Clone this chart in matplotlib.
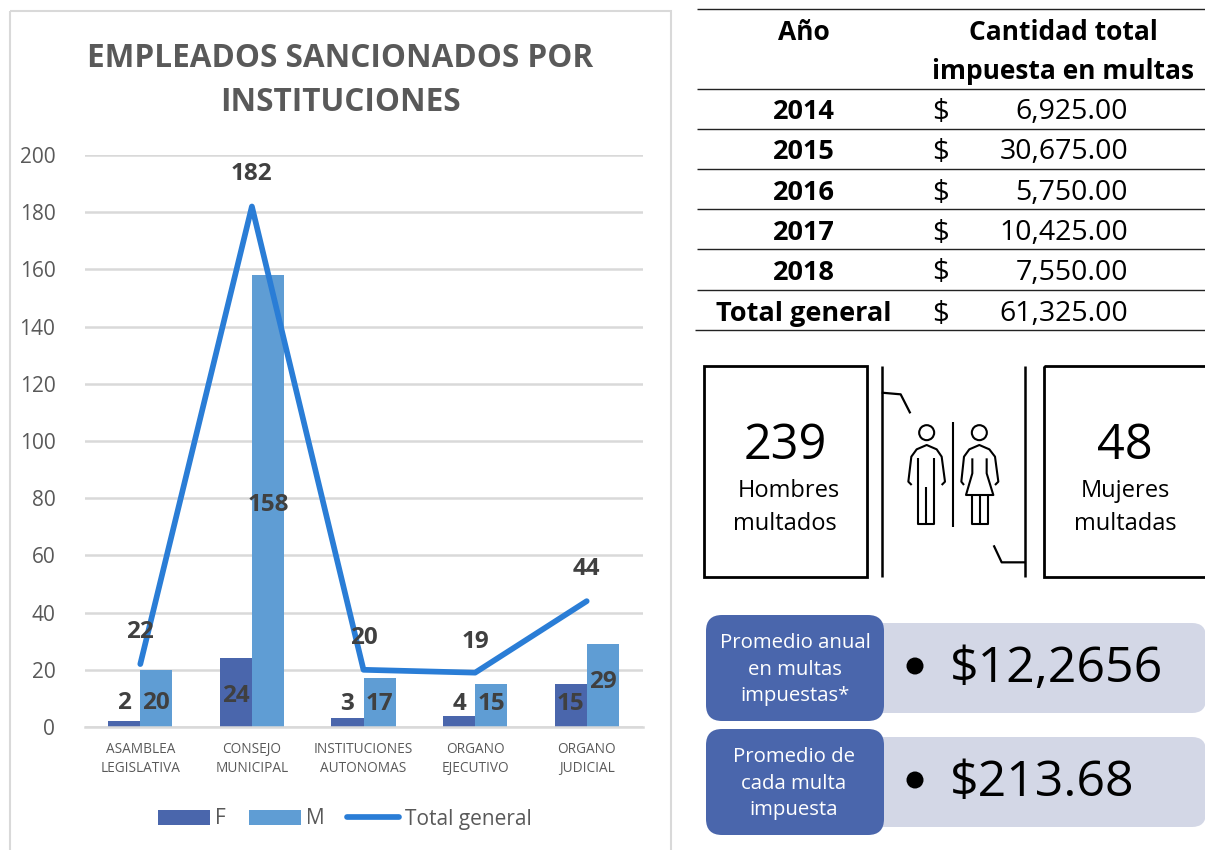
import matplotlib
matplotlib.use("Agg")
import matplotlib.pyplot as plt
import numpy as np
from matplotlib.patches import FancyBboxPatch, Rectangle, Circle

plt.rcParams["font.family"] = ["Open Sans", "DejaVu Sans"]

# datos del grafico
categories = ["ASAMBLEA\nLEGISLATIVA", "CONSEJO\nMUNICIPAL", "INSTITUCIONES\nAUTONOMAS",
              "ORGANO\nEJECUTIVO", "ORGANO\nJUDICIAL"]
f_values = [2, 24, 3, 4, 15]
m_values = [20, 158, 17, 15, 29]
total_values = [22, 182, 20, 19, 44]
y_ticks = [0, 20, 40, 60, 80, 100, 120, 140, 160, 180, 200]

# datos de la tabla
years = ["2014", "2015", "2016", "2017", "2018", "Total general"]
amounts = ["6,925.00", "30,675.00", "5,750.00", "10,425.00", "7,550.00", "61,325.00"]

men_count = "239"
women_count = "48"
annual_avg = "$12,2656"
fine_avg = "$213.68"

# desplazamiento de etiquetas (pixeles)
f_label_dy = [18, -38, 14, 12, -20]
m_label_dy = [-33, -230, -26, -20, -38]
total_label_dy = [32, 32, 32, 31, 32]

DARK = "#4a66ac"
MID = "#5f9dd4"
LINE = "#2a7dd6"
LIGHT = "#d3d7e6"
GREY = "#595959"
LABEL = "#404040"

W, H = 1205, 850
fig = plt.figure(figsize=(W / 100, H / 100), dpi=100, facecolor="white")

# capa de fondo en pixeles
bg = fig.add_axes([0, 0, 1, 1], zorder=0)
bg.set_xlim(0, W)
bg.set_ylim(H, 0)
bg.axis("off")

bg.add_patch(Rectangle((10, 11), 661, 860, fill=False, ec="#d9d9d9", lw=1.5))
bg.text(340, 58, "EMPLEADOS SANCIONADOS POR", ha="center", va="center",
        fontsize=22.7, fontweight="bold", color=GREY)
bg.text(340, 102, "INSTITUCIONES", ha="center", va="center",
        fontsize=22.7, fontweight="bold", color=GREY)

# eje del grafico
ax = fig.add_axes([84.5 / W, 1 - 727 / H, 558 / W, 572 / H], zorder=1)
ax.patch.set_alpha(0)
x = np.arange(len(categories))
bar_w = 0.287
ax.bar(x - bar_w / 2, f_values, bar_w, color=DARK, label="F", zorder=2)
ax.bar(x + bar_w / 2, m_values, bar_w, color=MID, label="M", zorder=2)
ax.plot(x, total_values, color=LINE, lw=4.1, label="Total general", zorder=3,
        solid_capstyle="round", solid_joinstyle="round")

ax.set_xlim(-0.5, len(categories) - 0.5)
ax.set_ylim(0, 200)
ax.set_yticks(y_ticks)
ax.set_xticks(x)
ax.set_xticklabels(categories, fontsize=9.8, color=GREY, linespacing=1.35)
ax.tick_params(axis="both", length=0)
ax.tick_params(axis="y", labelsize=15, labelcolor=GREY, pad=21)
ax.tick_params(axis="x", pad=11)
ax.grid(axis="y", color="#d9d9d9", lw=1.8, zorder=0)
ax.set_axisbelow(True)
for side in ["top", "right", "left"]:
    ax.spines[side].set_visible(False)
ax.spines["bottom"].set_color("#d9d9d9")
ax.spines["bottom"].set_linewidth(1.8)


def put_labels(xs, values, dys):
    for xi, v, dy in zip(xs, values, dys):
        ax.annotate(str(v), (xi, v), xytext=(0, dy), textcoords="offset pixels",
                    ha="center", va="center", fontsize=17.5, fontweight="bold",
                    color=LABEL, zorder=5)


put_labels(x - bar_w / 2, f_values, f_label_dy)
put_labels(x + bar_w / 2, m_values, m_label_dy)
put_labels(x, total_values, total_label_dy)

handles, labels = ax.get_legend_handles_labels()
order = [labels.index(name) for name in ["F", "M", "Total general"]]
ax.legend([handles[i] for i in order], [labels[i] for i in order],
          loc="center", bbox_to_anchor=(260 / 558, -92 / 572), ncol=3, frameon=False,
          fontsize=15, labelcolor=GREY, handlelength=2.5, handleheight=0.75,
          handletextpad=0.25, columnspacing=1.1)

# tabla
ink = "black"
for y0, x0 in zip([9, 89, 129, 169, 209, 249, 290, 330], [697, 697, 697, 697, 697, 697, 697, 695]):
    bg.plot([x0, W], [y0, y0], color="#222222", lw=1, solid_capstyle="butt")
bg.text(804, 32, "Año", ha="center", va="center", fontsize=19, fontweight="bold", color=ink)
bg.text(1063, 32, "Cantidad total", ha="center", va="center", fontsize=19, fontweight="bold", color=ink)
bg.text(1063, 71, "impuesta en multas", ha="center", va="center", fontsize=19, fontweight="bold", color=ink)
for yr, amt, y0 in zip(years, amounts, [112, 152, 193, 233, 273, 314]):
    bg.text(804, y0, yr, ha="center", va="center", fontsize=19.5, fontweight="bold", color=ink)
    bg.text(940, y0, "$", ha="center", va="center", fontsize=21, color=ink)
    bg.text(1128, y0, amt, ha="right", va="center", fontsize=20.5, color=ink)

# cuadros de hombres y mujeres
bg.add_patch(Rectangle((704, 366), 163, 211, fill=False, ec="black", lw=2))
bg.add_patch(Rectangle((1044, 366), 170, 211, fill=False, ec="black", lw=2))
bg.text(785, 446, men_count, ha="center", va="center", fontsize=35, color=ink)
bg.text(789, 491, "Hombres", ha="center", va="center", fontsize=17, color=ink)
bg.text(785, 524, "multados", ha="center", va="center", fontsize=17, color=ink)
bg.text(1125, 446, women_count, ha="center", va="center", fontsize=35, color=ink)
bg.text(1125, 491, "Mujeres", ha="center", va="center", fontsize=17, color=ink)
bg.text(1125, 524, "multadas", ha="center", va="center", fontsize=17, color=ink)


# icono del bano
def stroke(points, lw=1.5):
    pts = np.array(points, dtype=float)
    bg.plot(pts[:, 0] / 3 + 690, pts[:, 1] / 3 + 350, color="black", lw=lw,
            solid_capstyle="butt", solid_joinstyle="round")


stroke([(575, 48), (575, 680)], 1.8)
stroke([(1006, 48), (1006, 680)], 1.8)
stroke([(575, 128), (632, 133), (661, 190)], 1.6)
stroke([(911, 586), (935, 637), (1006, 637)], 1.6)
stroke([(790, 215), (790, 532)])
for cx in (710, 868):
    bg.add_patch(Circle((cx / 3 + 690, 248 / 3 + 350), 7.5, fill=False, ec="black", lw=1.5))
stroke([(665, 405), (655, 395), (664, 320), (680, 298), (710, 285), (740, 298),
        (755, 320), (765, 395), (755, 405)])
stroke([(685, 325), (685, 523), (733, 523), (733, 325)])
stroke([(709, 412), (709, 523)])
stroke([(822, 405), (814, 395), (822, 320), (838, 298), (868, 285), (898, 298),
        (915, 320), (925, 395), (915, 405)])
stroke([(847, 325), (847, 370), (828, 435), (910, 435), (890, 370), (890, 325)])
stroke([(847, 435), (847, 523), (895, 523), (895, 435)])
stroke([(870, 435), (870, 523)])


# cajas de promedios
def rbox(x0, y0, x1, y1, color, r):
    bg.add_patch(FancyBboxPatch((x0 + r, y0 + r), x1 - x0 - 2 * r, y1 - y0 - 2 * r,
                                boxstyle=f"round,pad={r},rounding_size={r}",
                                fc=color, ec="none"))


rbox(860, 623, 1206, 713, LIGHT, 14)
rbox(860, 737, 1206, 827, LIGHT, 14)
rbox(706, 615, 884, 721, DARK, 16)
rbox(706, 729, 884, 835, DARK, 16)
for y0, t in zip([643, 670, 696], ["Promedio anual", "en multas", "impuestas*"]):
    bg.text(795, y0, t, ha="center", va="center", fontsize=14.7, color="white")
for y0, t in zip([757, 784, 810], ["Promedio de", "cada multa", "impuesta"]):
    bg.text(794, y0, t, ha="center", va="center", fontsize=14.7, color="white")
bg.add_patch(Circle((915, 666), 8.5, fc="black", ec="none", zorder=4))
bg.add_patch(Circle((915, 780), 8.5, fc="black", ec="none", zorder=4))
bg.text(950, 669, annual_avg, ha="left", va="center", fontsize=36, color=ink)
bg.text(950, 783, fine_avg, ha="left", va="center", fontsize=36, color=ink)

fig.savefig("out.png", dpi=100)
